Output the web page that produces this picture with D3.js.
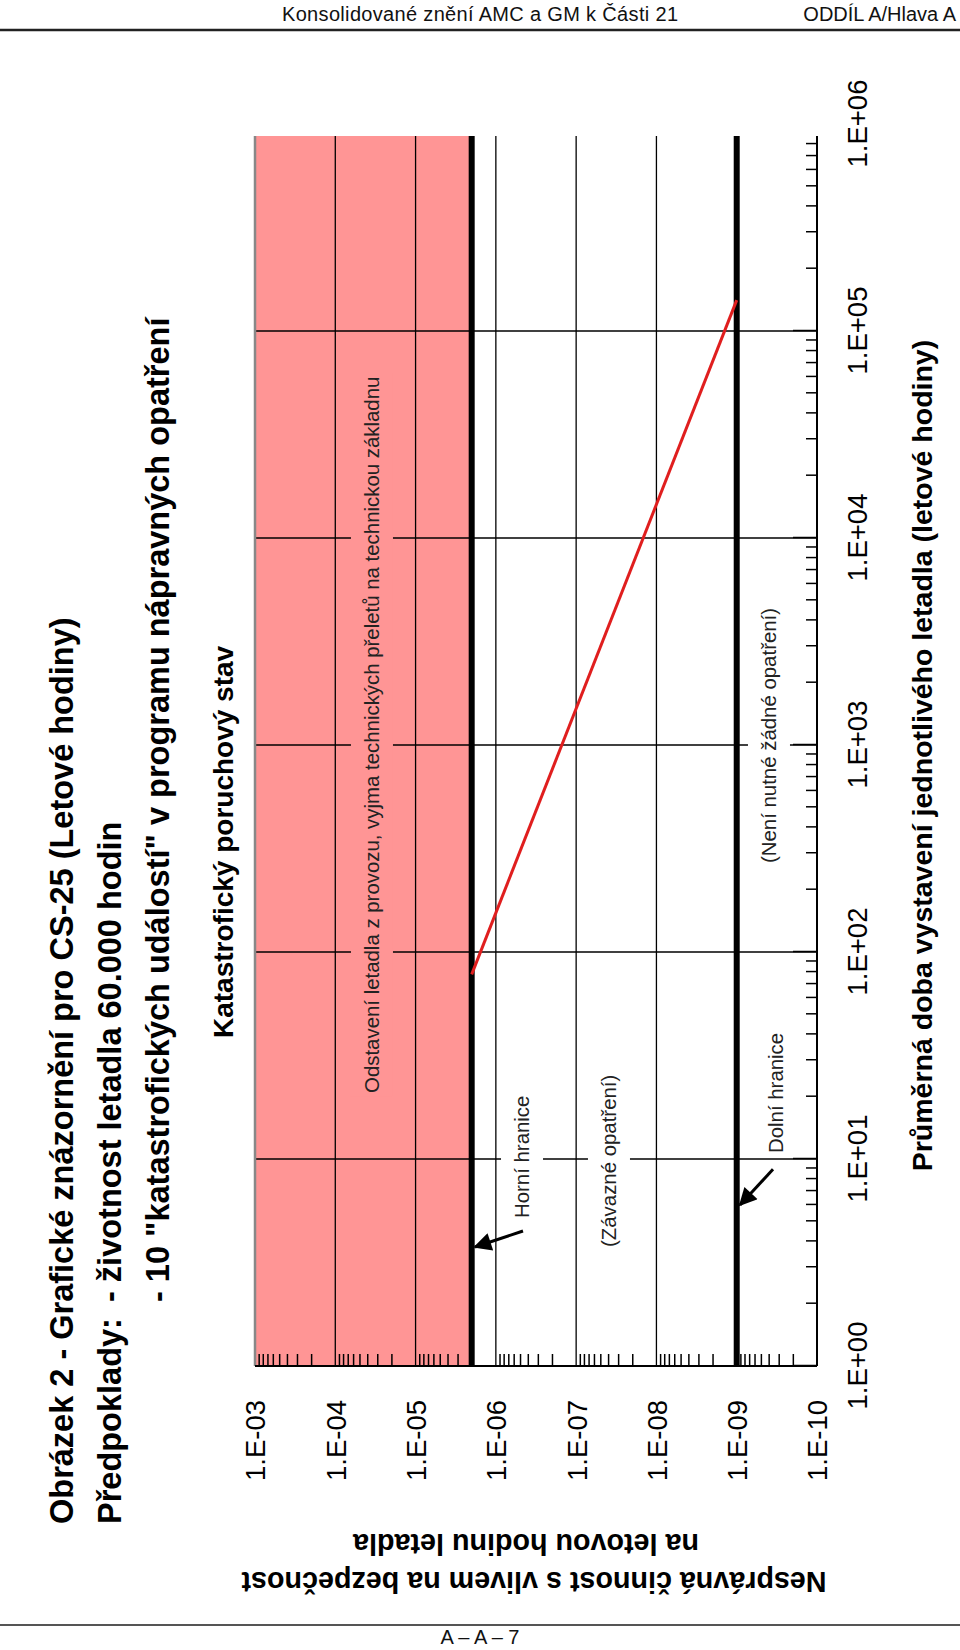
<!DOCTYPE html>
<html><head><meta charset="utf-8">
<script src="https://cdn.jsdelivr.net/npm/d3@7/dist/d3.min.js"></script>
<style>
body{margin:0;background:#fff}
svg{display:block}
text{font-family:"Liberation Sans",Arial,sans-serif}
</style>
</head><body>
<svg id="c" width="960" height="1650"></svg>
<script>
// ---------- data ----------
const hourTicks  = [1, 10, 100, 1e3, 1e4, 1e5, 1e6];
const hourLabels = ["1.E+00","1.E+01","1.E+02","1.E+03","1.E+04","1.E+05","1.E+06"];
const probTicks  = [1e-3, 1e-4, 1e-5, 1e-6, 1e-7, 1e-8, 1e-9, 1e-10];
const probLabels = ["1.E-03","1.E-04","1.E-05","1.E-06","1.E-07","1.E-08","1.E-09","1.E-10"];
const hoursVisibleMax = 8.75e5;
const upperLimit = 2e-6;     // Horní hranice
const lowerLimit = 1e-9;     // Dolní hranice
const riskHours = [78, 1.41e5];
const riskProb  = [2e-6, 1e-9];
const minorMult = [2,3,4,5,6,7,8,9];

const headerLeft  = "Konsolidované znění AMC a GM k Části 21";
const headerRight = "ODDÍL A/Hlava A";
const footerText  = "A – A – 7";
const titleLines  = ["Obrázek 2 - Grafické znázornění pro CS-25 (Letové hodiny)"];
const assumptionLabel = "Předpoklady:";
const assumptions = ["- životnost letadla 60.000 hodin", "- 10 \"katastrofických událostí\" v programu nápravných opatření"];
const zoneTitle = "Katastrofický poruchový stav";
const xTitle = "Průměrná doba vystavení jednotlivého letadla (letové hodiny)";
const yTitle = ["Nesprávná činnost s vlivem na bezpečnost", "na letovou hodinu letadla"];
// annotations: [log10 hours, log10 probability] of text start / baseline
const notes = [
  {text:"Odstavení letadla z provozu, vyjma technických přeletů na technickou základnu", lh:1.319, lp:-4.544, bg:"#ff9595"},
  {text:"Horní hranice", lh:0.715, lp:-6.413, bg:"#fff"},
  {text:"(Závazné opatření)", lh:0.575, lp:-7.496, bg:"#fff"},
  {text:"Dolní hranice", lh:1.029, lp:-9.576, bg:"#fff"},
  {text:"(Není nutné žádné opatření)", lh:2.43, lp:-9.489, bg:"#fff"}
];
const arrows = [
  {from:[0.652,-6.338], to:[0.575,-5.740]},
  {from:[0.95,-9.452], to:[0.778,-9.041]}
];

// ---------- page ----------
const svg = d3.select("#c");
svg.append("text").attr("x",282).attr("y",21).attr("font-size",20).attr("textLength",396).attr("fill","#111").text(headerLeft);
svg.append("text").attr("x",956).attr("y",21).attr("font-size",20).attr("text-anchor","end").attr("fill","#111").text(headerRight);
svg.append("line").attr("x1",0).attr("x2",960).attr("y1",30).attr("y2",30).attr("stroke","#222").attr("stroke-width",2.5);
svg.append("line").attr("x1",0).attr("x2",960).attr("y1",1625).attr("y2",1625).attr("stroke","#555").attr("stroke-width",1.8);
svg.append("text").attr("x",480).attr("y",1644).attr("font-size",20).attr("text-anchor","middle").attr("fill","#111").text(footerText);

// ---------- landscape chart, rotated ----------
const g = svg.append("g").attr("transform","translate(0,1650) rotate(-90)");
const x = d3.scaleLog().domain([1,1e6]).range([284,1526]);
const y = d3.scaleLog().domain([1e-3,1e-10]).range([255,817]);
const x0 = x(1), xEnd = x(hoursVisibleMax), yTop = y(1e-3), yBot = y(1e-10);

// red zone
g.append("rect").attr("x",x0).attr("y",yTop).attr("width",xEnd-x0).attr("height",y(upperLimit)-yTop).attr("fill","#ff9595");

// grid
g.selectAll(".gh").data(hourTicks.filter(d=>d>1 && d<=hoursVisibleMax)).join("line")
  .attr("x1",d=>x(d)).attr("x2",d=>x(d)).attr("y1",yTop).attr("y2",yBot).attr("stroke","#000").attr("stroke-width",1.3);
g.selectAll(".gp").data(probTicks.filter(d=>d<1e-3 && d>1e-10 && d!==lowerLimit)).join("line")
  .attr("x1",x0).attr("x2",xEnd).attr("y1",d=>y(d)).attr("y2",d=>y(d)).attr("stroke","#000").attr("stroke-width",1.3);

// annotation texts with masking boxes
const noteG = g.append("g");
notes.forEach(n=>{
  const t = noteG.append("text").attr("x",x(10**n.lh)).attr("y",y(10**n.lp)).attr("font-size",20.4).attr("fill","#222").text(n.text);
  const b = t.node().getBBox();
  noteG.insert("rect","text").attr("x",b.x-4).attr("y",b.y-10).attr("width",b.width+8).attr("height",b.height+20).attr("fill",n.bg);
});

// limit lines
[upperLimit, lowerLimit].forEach(p=>{
  g.append("line").attr("x1",x0).attr("x2",xEnd).attr("y1",y(p)).attr("y2",y(p)).attr("stroke","#000").attr("stroke-width",6);
});

// risk line
g.append("line").attr("x1",x(riskHours[0])).attr("y1",y(riskProb[0])).attr("x2",x(riskHours[1])).attr("y2",y(riskProb[1]))
  .attr("stroke","#e01e1e").attr("stroke-width",3);

// frame edges
g.append("line").attr("x1",x0).attr("x2",xEnd).attr("y1",yTop).attr("y2",yTop).attr("stroke","#888").attr("stroke-width",2.5);
g.append("line").attr("x1",x0).attr("x2",xEnd).attr("y1",yBot).attr("y2",yBot).attr("stroke","#000").attr("stroke-width",2);
g.append("line").attr("x1",x0).attr("x2",x0).attr("y1",yTop).attr("y2",yBot).attr("stroke","#000").attr("stroke-width",2);

// hours axis (bottom in landscape)
const minorHours = [];
hourTicks.forEach(d=>minorMult.forEach(m=>{ if (d*m<=hoursVisibleMax) minorHours.push(d*m); }));
const xMinor = g.append("g").attr("transform",`translate(0,${yBot})`)
  .call(d3.axisBottom(x).tickValues(minorHours).tickSizeInner(-11).tickSizeOuter(0).tickFormat(""));
xMinor.select(".domain").remove();
xMinor.selectAll("line").attr("stroke","#000").attr("stroke-width",1.5);
const xMajor = g.append("g").attr("transform",`translate(0,${yBot})`)
  .call(d3.axisBottom(x).tickValues(hourTicks.filter(d=>d<=hoursVisibleMax)).tickSizeInner(-24).tickSizeOuter(0).tickFormat(""));
xMajor.select(".domain").remove();
xMajor.selectAll("line").attr("stroke","#000").attr("stroke-width",1.5);
const xLab = g.append("g").attr("transform",`translate(0,${yBot})`)
  .call(d3.axisBottom(x).tickValues(hourTicks).tickSize(0).tickPadding(30).tickFormat((d,i)=>hourLabels[i]));
xLab.select(".domain").remove();
xLab.selectAll("text").attr("font-size",27.5).attr("font-family","'Liberation Sans',Arial,sans-serif").attr("fill","#000");

// probability axis (left in landscape)
const minorProb = [];
probTicks.slice(1).forEach(d=>minorMult.forEach(m=>minorProb.push(d*m)));
const yMinor = g.append("g").attr("transform",`translate(${x0},0)`)
  .call(d3.axisLeft(y).tickValues(minorProb).tickSizeInner(-12).tickSizeOuter(0).tickFormat(""));
yMinor.select(".domain").remove();
yMinor.selectAll("line").attr("stroke","#000").attr("stroke-width",1.5);
const yLab = g.append("g").attr("transform",`translate(${x0},0)`)
  .call(d3.axisLeft(y).tickValues(probTicks).tickSize(0).tickPadding(34).tickFormat((d,i)=>probLabels[i]));
yLab.select(".domain").remove();
yLab.selectAll("text").attr("font-size",27.5).attr("font-family","'Liberation Sans',Arial,sans-serif").attr("fill","#000").attr("dy","0.36em");

// arrows
const defs = svg.append("defs");
defs.append("marker").attr("id","ah").attr("viewBox","0 0 10 10").attr("refX",9).attr("refY",5)
  .attr("markerWidth",7).attr("markerHeight",6).attr("markerUnits","strokeWidth").attr("orient","auto")
  .append("path").attr("d","M0,0 L10,5 L0,10 z").attr("fill","#000");
arrows.forEach(a=>{
  g.append("line").attr("x1",x(10**a.from[0])).attr("y1",y(10**a.from[1])).attr("x2",x(10**a.to[0])).attr("y2",y(10**a.to[1]))
   .attr("stroke","#000").attr("stroke-width",3).attr("marker-end","url(#ah)");
});

// titles
g.append("text").attr("x",126).attr("y",73).attr("font-size",32.5).attr("font-weight","bold").text(titleLines[0]);
g.append("text").attr("x",126).attr("y",121).attr("font-size",32.5).attr("font-weight","bold").text(assumptionLabel);
g.append("text").attr("x",348).attr("y",121).attr("font-size",32.5).attr("font-weight","bold").text(assumptions[0]);
g.append("text").attr("x",348).attr("y",169).attr("font-size",32.5).attr("font-weight","bold").text(assumptions[1]);
g.append("text").attr("x",612).attr("y",233).attr("font-size",28).attr("font-weight","bold").text(zoneTitle);
g.append("text").attr("x",(476+1313)/2).attr("y",932).attr("font-size",28.5).attr("font-weight","bold").attr("text-anchor","middle").text(xTitle);
g.append("text").attr("transform","translate(78,534) rotate(-90)").attr("font-size",28.7).attr("font-weight","bold").attr("text-anchor","middle").text(yTitle[0]);
g.append("text").attr("transform","translate(116,526) rotate(-90)").attr("font-size",28.7).attr("font-weight","bold").attr("text-anchor","middle").text(yTitle[1]);
</script>
</body></html>
